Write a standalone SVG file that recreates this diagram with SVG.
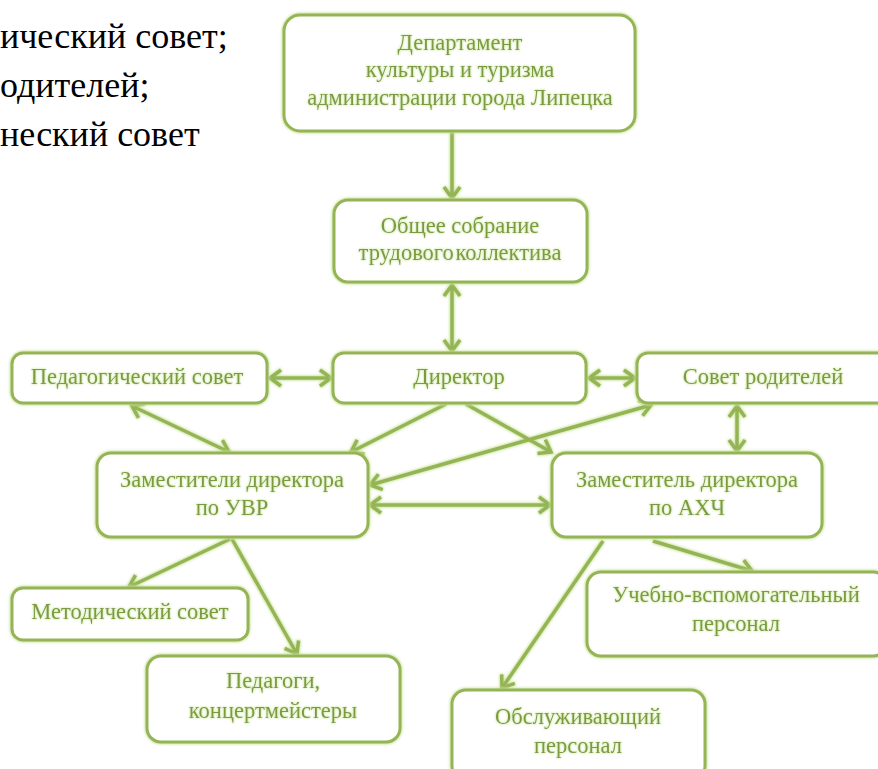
<svg xmlns="http://www.w3.org/2000/svg" width="878" height="769" viewBox="0 0 878 769">
<defs>
<style>
.box{fill:#ffffff;stroke:#94b454;stroke-width:3}
.t{font-family:"Times New Roman","Liberation Serif","Noto Serif","DejaVu Serif",serif;font-size:22.5px;fill:#7b9a40;text-anchor:middle}
.plain{font-family:"Times New Roman","Liberation Serif","Noto Serif","DejaVu Serif",serif;font-size:36px;fill:#000000}
.c{fill:none;stroke:#94b454;stroke-width:3.5}
</style>
<filter id="glow" x="-20%" y="-20%" width="140%" height="140%">
<feGaussianBlur in="SourceAlpha" stdDeviation="1.8" result="b"/>
<feFlood flood-color="#c9e39a" flood-opacity="1"/>
<feComposite in2="b" operator="in" result="g"/>
<feMerge><feMergeNode in="g"/><feMergeNode in="g"/><feMergeNode in="SourceGraphic"/></feMerge>
</filter>
<filter id="tglow" x="-10%" y="-30%" width="120%" height="160%">
<feGaussianBlur in="SourceAlpha" stdDeviation="1" result="b"/>
<feFlood flood-color="#d2eaa8" flood-opacity="1"/>
<feComposite in2="b" operator="in" result="g"/>
<feMerge><feMergeNode in="g"/><feMergeNode in="g"/><feMergeNode in="SourceGraphic"/></feMerge>
</filter>
<marker id="ah" markerUnits="userSpaceOnUse" markerWidth="24" markerHeight="24" viewBox="-14 -12 16 24" refX="0" refY="0" orient="auto-start-reverse">
<path d="M-11,-8 L0,0 L-11,8" fill="none" stroke="#94b454" stroke-width="3.5" stroke-linejoin="miter"/>
</marker>
</defs>
<rect width="878" height="769" fill="#ffffff"/>

<g id="bodytext">
<text class="plain" x="0" y="48">ический совет;</text>
<text class="plain" x="0" y="97">одителей;</text>
<text class="plain" x="0" y="146">неский совет</text>
</g>

<g id="connectors" filter="url(#glow)">
<path class="c" d="M452,132 L452,198" marker-end="url(#ah)"/>
<path class="c" d="M452,285 L452,351" marker-start="url(#ah)" marker-end="url(#ah)"/>
<path class="c" d="M270,378 L331,378" marker-start="url(#ah)" marker-end="url(#ah)"/>
<path class="c" d="M589,378 L635,378" marker-start="url(#ah)" marker-end="url(#ah)"/>
<path class="c" d="M132,406 L229,452" marker-start="url(#ah)" marker-end="url(#ah)"/>
<path class="c" d="M446,404 L351,452" marker-end="url(#ah)"/>
<path class="c" d="M466,404 L551,452" marker-end="url(#ah)"/>
<path class="c" d="M651,405 L370,485" marker-start="url(#ah)" marker-end="url(#ah)"/>
<path class="c" d="M737,406 L737,451" marker-start="url(#ah)" marker-end="url(#ah)"/>
<path class="c" d="M370,505 L550,505" marker-start="url(#ah)" marker-end="url(#ah)"/>
<path class="c" d="M230,539 L129,587" marker-end="url(#ah)"/>
<path class="c" d="M232,539 L297,654" marker-end="url(#ah)"/>
<path class="c" d="M653,541 L752,571" marker-end="url(#ah)"/>
<path class="c" d="M603,541 L502,688" marker-end="url(#ah)"/>
</g>

<g id="n-department">
<rect class="box" x="284" y="15" width="351" height="116" rx="16" filter="url(#glow)"/>
<g filter="url(#tglow)"><text class="t" x="460" y="50">Департамент</text>
<text class="t" x="460" y="77">культуры и туризма</text>
<text class="t" x="460" y="105">администрации города Липецка</text></g>
</g>

<g id="n-general">
<rect class="box" x="334" y="200" width="253" height="82" rx="14" filter="url(#glow)"/>
<g filter="url(#tglow)"><text class="t" x="460" y="233">Общее собрание</text>
<text class="t" x="460" y="260" style="word-spacing:-4px">трудового коллектива</text></g>
</g>

<g id="n-director">
<rect class="box" x="333" y="353" width="253" height="50" rx="11" filter="url(#glow)"/>
<text class="t" x="459" y="384" filter="url(#tglow)">Директор</text>
</g>

<g id="n-pedsovet">
<rect class="box" x="12" y="353" width="255" height="50" rx="11" filter="url(#glow)"/>
<text class="t" x="137" y="384" filter="url(#tglow)">Педагогический совет</text>
</g>

<g id="n-parents">
<rect class="box" x="637" y="353" width="254" height="50" rx="11" filter="url(#glow)"/>
<text class="t" x="763" y="384" filter="url(#tglow)">Совет родителей</text>
</g>

<g id="n-uvr">
<rect class="box" x="97" y="453" width="271" height="84" rx="14" filter="url(#glow)"/>
<g filter="url(#tglow)"><text class="t" x="232" y="487">Заместители директора</text>
<text class="t" x="232" y="515">по УВР</text></g>
</g>

<g id="n-ahch">
<rect class="box" x="552" y="453" width="270" height="84" rx="14" filter="url(#glow)"/>
<g filter="url(#tglow)"><text class="t" x="687" y="487">Заместитель директора</text>
<text class="t" x="687" y="515">по АХЧ</text></g>
</g>

<g id="n-metod">
<rect class="box" x="12" y="588" width="236" height="52" rx="11" filter="url(#glow)"/>
<text class="t" x="130" y="619" filter="url(#tglow)">Методический совет</text>
</g>

<g id="n-pedagogi">
<rect class="box" x="147" y="656" width="253" height="86" rx="14" filter="url(#glow)"/>
<g filter="url(#tglow)"><text class="t" x="273" y="688">Педагоги,</text>
<text class="t" x="273" y="718">концертмейстеры</text></g>
</g>

<g id="n-uchebno">
<rect class="box" x="587" y="572" width="300" height="84" rx="14" filter="url(#glow)"/>
<g filter="url(#tglow)"><text class="t" x="736" y="602">Учебно-вспомогательный</text>
<text class="t" x="736" y="631">персонал</text></g>
</g>

<g id="n-obsl">
<rect class="box" x="452" y="690" width="253" height="90" rx="14" filter="url(#glow)"/>
<g filter="url(#tglow)"><text class="t" x="578" y="724">Обслуживающий</text>
<text class="t" x="578" y="753">персонал</text></g>
</g>
</svg>
